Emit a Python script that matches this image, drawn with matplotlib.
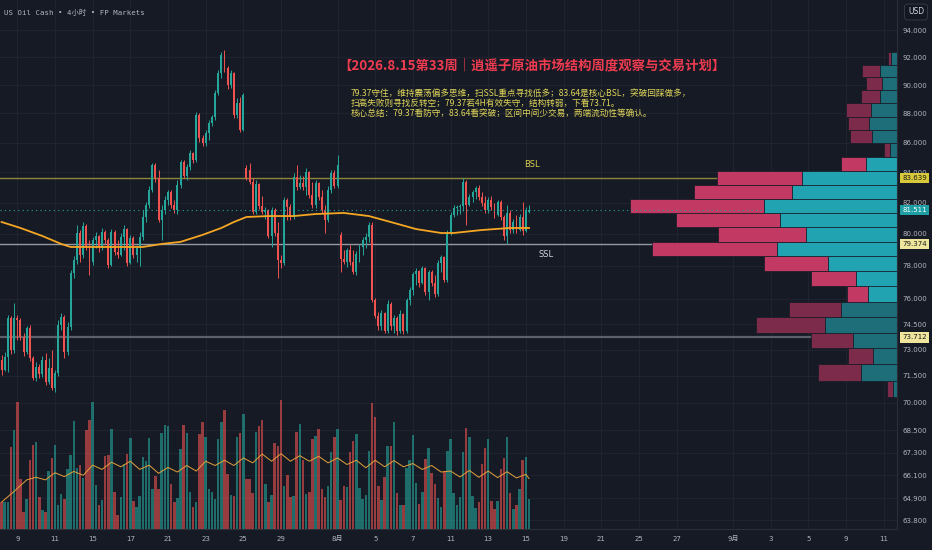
import matplotlib
matplotlib.use('Agg')
import matplotlib.pyplot as plt
from matplotlib import transforms
from matplotlib.patches import Rectangle
from matplotlib.ticker import NullLocator
import numpy as np

plt.rcParams['font.family'] = ['DejaVu Sans', 'Noto Sans CJK SC']

# 4H candles
opens = [
    72.41, 71.84, 72.58, 74.86, 72.99, 74.86, 74.74, 73.74, 72.87, 74.27,
    72.52, 71.39, 72.01, 71.61, 72.41, 71.16, 71.96, 70.82, 71.67, 74.44,
    74.92, 72.87, 74.33, 77.57, 78.37, 80.06, 78.68, 80.51, 79.18, 78.24,
    79.62, 79.87, 79.12, 80.12, 79.62, 78.06, 80.12, 78.87, 78.68, 79.81,
    80.31, 78.18, 79.75, 78.68, 79.12, 79.81, 81.08, 81.86, 82.83, 84.49,
    83.62, 80.89, 81.53, 82.18, 82.70, 81.86, 81.53, 83.16, 84.69, 83.75,
    84.35, 85.29, 84.82, 87.89, 86.31, 85.97, 86.65, 87.34, 87.75, 89.44,
    90.86, 92.17, 91.22, 90.00, 90.86, 87.89, 88.73, 86.86, 84.29, 84.15,
    83.36, 81.40, 83.23, 81.79, 81.40, 81.53, 79.87, 81.53, 80.06, 78.37,
    78.18, 82.18, 81.73, 81.08, 83.69, 83.03, 83.29, 83.03, 84.02, 82.51,
    81.86, 83.29, 82.38, 81.53, 80.89, 82.83, 83.95, 83.10, 79.94, 78.43,
    78.24, 78.99, 78.24, 77.62, 78.74, 79.18, 79.62, 79.81, 80.57, 75.93,
    74.98, 74.39, 75.16, 74.09, 75.69, 74.39, 74.86, 74.09, 75.10, 74.09,
    75.93, 76.53, 77.51, 77.69, 76.96, 77.87, 76.40, 77.62, 76.96, 76.29,
    78.18, 78.55, 77.14, 80.06, 81.21, 81.66, 81.73, 81.79, 83.36, 81.86,
    82.38, 82.70, 82.96, 82.38, 81.99, 81.53, 82.18, 81.73, 81.21, 82.05,
    81.08, 79.87, 81.34, 80.25, 80.76, 80.25, 81.08, 80.18, 81.40,
]
highs = [
    72.70, 72.87, 75.04, 74.98, 75.75, 75.04, 74.86, 73.98, 74.38, 74.44,
    72.64, 72.30, 72.18, 72.64, 72.82, 72.52, 72.99, 71.84, 74.74, 75.16,
    75.04, 74.62, 77.75, 78.62, 80.57, 80.25, 80.76, 80.63, 79.62, 79.81,
    80.12, 79.94, 80.38, 80.25, 79.75, 80.31, 80.25, 79.62, 80.06, 80.57,
    80.38, 79.94, 79.87, 79.31, 80.12, 81.53, 82.05, 83.10, 84.62, 84.62,
    84.15, 81.86, 82.44, 82.83, 82.83, 82.18, 83.49, 84.82, 84.82, 84.56,
    85.49, 85.36, 88.10, 88.03, 86.52, 86.86, 87.55, 87.89, 89.65, 91.08,
    92.38, 92.53, 91.36, 91.08, 90.94, 89.08, 89.16, 89.44, 84.49, 84.62,
    83.62, 83.49, 83.29, 82.44, 81.73, 81.59, 81.73, 81.66, 80.76, 78.68,
    82.38, 82.31, 81.92, 83.95, 84.49, 83.82, 83.75, 84.29, 84.08, 83.36,
    83.49, 83.36, 82.83, 81.86, 83.10, 84.15, 84.15, 85.16, 80.12, 79.00,
    79.12, 79.31, 78.99, 78.93, 79.37, 79.81, 80.06, 80.76, 80.76, 76.05,
    75.21, 75.33, 75.21, 75.93, 75.81, 75.04, 74.98, 75.33, 75.16, 76.05,
    76.71, 77.62, 77.87, 77.75, 78.00, 77.93, 77.75, 77.75, 77.45, 78.37,
    78.68, 78.62, 80.25, 81.40, 81.86, 81.86, 81.92, 83.62, 83.49, 82.57,
    82.83, 83.10, 83.16, 82.70, 82.44, 82.38, 82.44, 81.99, 82.18, 82.18,
    81.21, 81.86, 81.53, 80.95, 81.21, 81.27, 82.05, 81.73, 81.86,
]
lows = [
    71.56, 71.78, 71.73, 72.76, 72.82, 73.57, 73.57, 72.64, 72.76, 72.35,
    71.28, 71.22, 71.39, 71.45, 70.99, 71.05, 70.71, 70.60, 71.50, 74.15,
    72.52, 72.70, 74.15, 77.26, 78.12, 78.24, 78.49, 78.99, 77.45, 78.06,
    79.12, 78.87, 78.99, 79.37, 77.87, 78.00, 78.68, 78.49, 78.62, 78.99,
    78.00, 78.12, 78.49, 78.24, 78.00, 79.62, 80.76, 81.66, 82.70, 83.36,
    80.76, 79.62, 81.27, 81.86, 81.66, 81.34, 81.27, 82.96, 83.62, 83.49,
    84.15, 84.62, 84.69, 86.04, 85.76, 85.76, 86.17, 87.13, 87.55, 89.30,
    90.50, 90.94, 89.72, 89.79, 87.68, 87.68, 86.72, 86.80, 83.49, 83.23,
    81.27, 81.27, 81.59, 81.27, 80.95, 79.75, 79.18, 79.87, 77.26, 77.87,
    78.06, 80.89, 80.89, 80.95, 82.83, 82.90, 82.83, 82.51, 82.31, 81.66,
    81.66, 82.18, 81.34, 80.06, 80.76, 82.64, 82.96, 82.96, 77.62, 78.12,
    77.93, 78.06, 77.51, 77.45, 78.24, 78.68, 79.12, 79.50, 75.81, 74.86,
    74.15, 74.15, 73.98, 73.98, 74.15, 73.98, 73.86, 73.98, 73.92, 73.98,
    75.63, 76.23, 76.84, 76.71, 76.90, 76.23, 75.93, 76.78, 76.11, 76.15,
    77.62, 77.02, 77.02, 79.94, 81.08, 81.21, 81.27, 81.47, 80.57, 81.79,
    82.05, 82.25, 82.18, 81.79, 81.34, 81.34, 81.53, 81.02, 81.14, 80.89,
    79.62, 79.37, 80.06, 80.06, 80.06, 80.18, 79.94, 80.12, 81.34,
]
closes = [
    71.84, 72.58, 74.86, 72.99, 74.86, 74.74, 73.74, 72.87, 74.27, 72.52,
    71.39, 72.01, 71.61, 72.41, 71.16, 71.96, 70.82, 71.67, 74.44, 74.92,
    72.87, 74.33, 77.57, 78.37, 80.06, 78.68, 80.51, 79.18, 78.24, 79.62,
    79.87, 79.12, 80.12, 79.62, 78.06, 80.12, 78.87, 78.68, 79.81, 80.31,
    78.18, 79.75, 78.68, 79.12, 79.81, 81.08, 81.86, 82.83, 84.49, 83.62,
    80.89, 81.53, 82.18, 82.70, 81.86, 81.53, 83.16, 84.69, 83.75, 84.35,
    85.29, 84.82, 87.89, 86.31, 85.97, 86.65, 87.34, 87.75, 89.44, 90.86,
    92.17, 91.22, 90.00, 90.86, 87.89, 88.73, 86.86, 89.30, 83.62, 83.36,
    81.40, 83.23, 81.79, 81.40, 81.53, 79.87, 81.53, 80.06, 78.37, 78.18,
    82.18, 81.73, 81.08, 83.69, 83.03, 83.29, 83.03, 84.02, 82.51, 81.86,
    83.29, 82.38, 81.53, 80.89, 82.83, 83.95, 83.10, 84.49, 78.43, 78.24,
    78.99, 78.24, 77.62, 78.74, 79.18, 79.62, 79.81, 80.57, 75.93, 74.98,
    74.39, 75.16, 74.09, 75.69, 74.39, 74.86, 74.09, 75.10, 74.09, 75.93,
    76.53, 77.51, 77.69, 76.96, 77.87, 76.40, 77.62, 76.96, 76.29, 78.18,
    78.55, 77.14, 80.06, 81.21, 81.66, 81.73, 81.79, 83.36, 81.86, 82.38,
    82.70, 82.96, 82.38, 81.99, 81.53, 82.18, 81.73, 81.21, 82.05, 81.08,
    79.87, 81.34, 80.25, 80.76, 80.25, 81.08, 80.18, 81.53, 81.511,
]
volumes = [
    84, 82, 82, 252, 302, 389, 152, 52, 92, 212,
    257, 267, 97, 57, 52, 177, 217, 257, 72, 107,
    92, 182, 227, 330, 187, 194, 157, 302, 332, 387,
    135, 72, 89, 222, 227, 304, 112, 44, 97, 200,
    230, 277, 87, 67, 100, 220, 209, 277, 122, 162,
    122, 292, 317, 314, 137, 82, 94, 244, 317, 292,
    112, 67, 82, 290, 326, 282, 122, 112, 92, 274,
    328, 362, 167, 104, 102, 282, 292, 352, 154, 154,
    110, 297, 314, 334, 137, 82, 104, 264, 254, 394,
    132, 164, 99, 100, 297, 320, 212, 107, 112, 274,
    284, 307, 122, 97, 132, 235, 282, 304, 89, 130,
    127, 234, 270, 290, 124, 92, 104, 237, 384, 342,
    132, 89, 160, 254, 254, 326, 110, 72, 72, 187,
    210, 287, 139, 77, 114, 215, 247, 172, 137, 94,
    67, 177, 239, 275, 110, 74, 97, 234, 309, 282,
    100, 64, 82, 200, 246, 274, 87, 62, 87, 182,
    217, 282, 110, 60, 74, 122, 210, 220, 92,
]

# moving average on price (candle index, value)
ma_idx = [0, 6, 13, 19, 22, 32, 45, 51, 57, 64, 70, 74, 78, 85, 93, 100, 109,
          117, 125, 132, 140, 144, 153, 162, 168]
ma_val = [80.76, 80.38, 79.87, 79.37, 79.18, 79.18, 79.18, 79.37, 79.50, 79.94,
          80.38, 80.76, 81.08, 81.14, 81.14, 81.27, 81.34, 81.14, 80.70, 80.31,
          80.06, 80.06, 80.25, 80.38, 80.38]

# moving average on volume
vma_idx = [0, 4, 8, 11, 14, 17, 20, 23, 26, 29, 32, 35, 38, 41, 44, 47, 50, 53,
           56, 59, 62, 65, 68, 71, 74, 77, 80, 83, 86, 89, 92, 95, 98, 101, 104,
           107, 110, 113, 116, 119, 122, 125, 128, 131, 134, 137, 140, 143, 146,
           149, 152, 155, 158, 161, 164, 167, 168]
vma_val = [82, 115, 150, 158, 150, 172, 160, 176, 164, 195, 182, 204, 190, 207,
           182, 195, 170, 188, 174, 194, 177, 207, 194, 210, 194, 217, 202, 229,
           207, 230, 207, 224, 207, 222, 202, 217, 197, 210, 187, 210, 190, 209,
           190, 200, 182, 194, 174, 177, 159, 179, 158, 177, 157, 175, 156, 167,
           154]

price_ticks = [94, 92, 90, 88, 86, 84, 82, 80, 78, 76, 74.5, 73, 71.5, 70,
               68.5, 67.3, 66.1, 64.9, 63.8]
time_labels = ['9', '11', '15', '17', '21', '23', '25', '29', '8月', '5', '7',
               '11', '13', '15', '19', '21', '25', '27', '9月', '3', '5', '9', '11']
time_pos = [5.5, 17.5, 29.5, 41.5, 53.5, 65.5, 77.5, 89.5, 107.5, 119.5, 131.5,
            143.5, 155.5, 167.5, 179.5, 191.5, 203.5, 215.5, 233.5, 245.5,
            257.5, 269.5, 281.5]

# volume profile, rows from bottom to top
profile_lo = 70.32
profile_hi = 92.38
profile_sell = [6, 43, 25, 42, 69, 52, 21, 45, 64, 125, 88, 104, 134, 98, 85,
                25, 6, 22, 21, 25, 19, 16, 18, 3]
profile_buy = [4, 36, 24, 44, 72, 56, 29, 41, 69, 120, 91, 117, 133, 105, 95,
               31, 7, 25, 28, 26, 17, 15, 17, 6]
value_area = (6, 15)

bsl = 83.639
last_price = 81.511
ssl = 79.374
low_level = 73.712

title = '【2026.8.15第33周｜逍遥子原油市场结构周度观察与交易计划】'
notes = [
    '79.37守住，维持震荡偏多思维，扫SSL重点寻找低多；83.64是核心BSL，突破回踩做多，',
    '扫高失败则寻找反转空；79.37若4H有效失守，结构转弱，下看73.71。',
    '核心总结：79.37看防守，83.64看突破；区间中间少交易，两端流动性等确认。',
]

BG = '#161a25'
GRID = '#1f2330'
TXT = '#b2b5be'
UP = '#26a69a'
DOWN = '#ef5350'
W, H = 932, 550

fig = plt.figure(figsize=(W / 100, H / 100), dpi=100, facecolor=BG)
ax = fig.add_axes([0, 21 / H, 897 / W, 529 / H])
ax.set_facecolor(BG)
ax.set_yscale('log')
ax.set_ylim(63.35, 96.26)
ax.set_xlim(0, 285.7)

ax.yaxis.set_minor_locator(NullLocator())
ax.set_yticks(price_ticks)
ax.set_yticklabels(['%.3f' % t for t in price_ticks])
ax.yaxis.tick_right()
ax.tick_params(axis='y', length=0, pad=4, labelsize=5, labelcolor=TXT)
ax.set_xticks(time_pos)
ax.set_xticklabels(time_labels)
ax.tick_params(axis='x', length=0, pad=5, labelsize=5, labelcolor=TXT)
ax.grid(True, color=GRID, lw=0.8)
ax.set_axisbelow(True)
for s in ['top', 'left']:
    ax.spines[s].set_visible(False)
for s in ['right', 'bottom']:
    ax.spines[s].set_color('#2a2e39')

o = np.array(opens)
c = np.array(closes)
hi = np.array(highs)
lo = np.array(lows)
n = len(c)
x = np.arange(n) + 0.5
up = c >= o
cols = np.where(up, UP, DOWN)

ax.vlines(x, lo, hi, colors=cols, lw=0.7, zorder=3)
body = np.maximum(np.abs(c - o), 0.03)
ax.bar(x, body, bottom=np.minimum(o, c), width=0.62, color=cols, lw=0, zorder=4)

ax.plot(np.array(ma_idx) + 0.5, ma_val, color='#f5a623', lw=1.3, zorder=5)

# levels
ax.axhline(bsl, color='#8c8639', lw=1.0, zorder=1.5)
ax.axhline(ssl, color='#9598a1', lw=1.0, zorder=1.5)
ax.axhline(low_level, color='#5d606b', lw=1.6, zorder=1.5)
ax.axhline(last_price, color=UP, lw=0.8, ls=(0, (1, 3)), zorder=6)

# volume profile on the right
trans = transforms.blended_transform_factory(ax.transAxes, ax.transData)
rows = len(profile_sell)
step = (profile_hi - profile_lo) / rows
for k in range(rows):
    y0 = profile_lo + k * step
    inside = value_area[0] <= k <= value_area[1]
    red = '#c23a64' if inside else '#7c2b4b'
    teal = '#21a3b2' if inside else '#1d6e79'
    s = profile_sell[k] / 897
    b = profile_buy[k] / 897
    ax.add_patch(Rectangle((1 - s - b, y0), s, step, transform=trans, fc=red,
                           ec=BG, lw=0.5, zorder=2))
    ax.add_patch(Rectangle((1 - b, y0), b, step, transform=trans, fc=teal,
                           ec=BG, lw=0.5, zorder=2))

# price boxes on the axis
boxes = [(bsl, '#d8c93b', '#1a1a1a'), (last_price, '#1f9ea3', '#ffffff'),
         (ssl, '#efe59c', '#1a1a1a'), (low_level, '#efe59c', '#1a1a1a')]
for val, fc, tc in boxes:
    ax.text(1.006, val, '%.3f' % val, transform=trans, ha='left', va='center',
            fontsize=5, color=tc, clip_on=False, zorder=10,
            bbox=dict(boxstyle='square,pad=0.3', fc=fc, ec='none'))

ax.text(169.5, 84.55, 'BSL', fontsize=6, color='#d9cf4e', ha='center', va='center', zorder=7)
ax.text(174.0, 78.70, 'SSL', fontsize=6, color='#d1d4dc', ha='center', va='center', zorder=7)

# volume overlay
ax2 = fig.add_axes([0, 21 / H, 897 / W, 529 / H], sharex=ax)
ax2.patch.set_visible(False)
ax2.axis('off')
ax2.set_ylim(0, 1616)
ax2.bar(x, volumes, width=0.8, color=cols, alpha=0.6, lw=0)
ax2.plot(np.array(vma_idx) + 0.5, vma_val, color='#e3a13a', lw=0.7)
ax2.set_xlim(0, 285.7)

# header texts
fig.text(4 / W, 1 - 13 / H, 'US Oil Cash • 4小时 • FP Markets', fontsize=5.3,
         color=TXT, va='center', family=['DejaVu Sans Mono', 'Noto Sans CJK SC'])
fig.text(916 / W, 1 - 12 / H, 'USD', fontsize=5.5, color='#d1d4dc', ha='center',
         va='center', bbox=dict(boxstyle='round,pad=0.45', fc='#131722', ec='#3a3e4a', lw=0.6))
fig.text(532 / W, 1 - 65 / H, title, fontsize=9.6, color='#ef3b4f', weight='bold',
         ha='center', va='center', family=['Noto Sans CJK SC', 'DejaVu Sans'])
for i, line in enumerate(notes):
    fig.text(351 / W, 1 - (93 + 10 * i) / H, line, fontsize=6.2, color='#e0d65a',
             va='center', family=['Noto Sans CJK SC', 'DejaVu Sans'])

fig.savefig('out.png', dpi=100, facecolor=BG)
